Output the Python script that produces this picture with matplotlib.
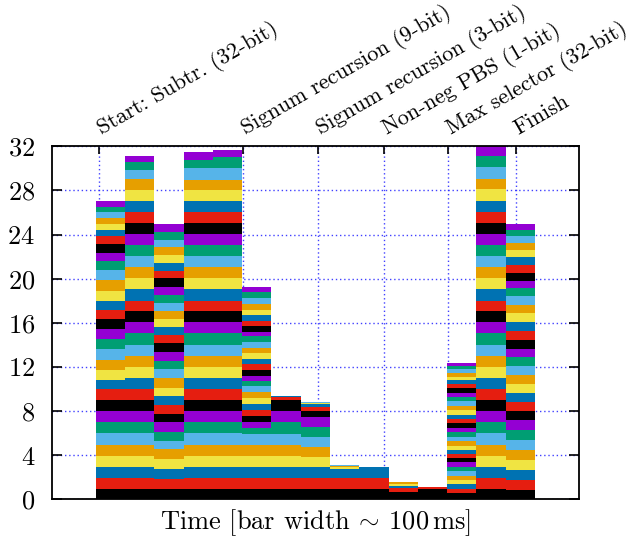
import matplotlib
matplotlib.use("Agg")
import matplotlib.pyplot as plt
import matplotlib.transforms as mtrans
import numpy as np

plt.rcParams["font.family"] = ["cmr10", "DejaVu Serif"]
plt.rcParams["mathtext.fontset"] = "cm"
plt.rcParams["axes.formatter.use_mathtext"] = True

# per-thread busy time in each 100 ms slot (stacked from bottom)
slot02 = [0.94, 1.03, 0.97, 1.00, 1.00, 1.03, 1.03, 1.00, 1.03, 0.94, 0.88, 0.91, 0.91, 0.91, 0.91, 0.91,
          0.91, 0.82, 0.88, 0.91, 0.94, 0.91, 0.82, 0.76, 0.79, 0.73, 0.54, 0.51, 0.57, 0.54, 0.51, 0.48]
slot03 = [0.94, 1.03, 0.97, 1.00, 1.00, 1.03, 1.03, 1.00, 1.03, 0.97, 1.03, 1.00, 1.00, 1.00, 1.00, 1.00,
          1.00, 0.97, 1.03, 1.00, 1.00, 1.00, 1.00, 1.00, 1.00, 1.00, 1.00, 1.05, 0.94, 0.79, 0.73, 0.54]
slot04 = [0.94, 0.94, 0.91, 0.88, 0.85, 0.79, 0.82, 0.85, 0.79, 0.76, 0.79, 0.79, 0.85, 0.82, 0.79, 0.79,
          0.79, 0.76, 0.69, 0.73, 0.73, 0.76, 0.69, 0.73, 0.82, 0.66, 0.73, 0.69, 0.73, 0.63, 0.73, 0.73]
slot05 = [0.94, 1.03, 0.97, 1.00, 1.00, 1.03, 1.03, 1.00, 1.03, 0.97, 1.03, 1.00, 1.00, 1.00, 1.00, 1.00,
          1.00, 0.97, 1.03, 1.00, 1.00, 1.00, 1.00, 1.00, 1.00, 1.00, 1.00, 1.00, 0.94, 1.06, 0.73, 0.73]
slot06 = [0.94, 1.03, 0.97, 1.00, 1.00, 1.03, 1.03, 1.00, 1.03, 0.97, 1.03, 1.00, 1.00, 1.00, 1.00, 1.00,
          1.00, 0.97, 1.03, 1.00, 1.00, 1.00, 1.00, 1.00, 1.00, 1.00, 1.00, 1.00, 0.94, 1.06, 0.97, 0.63]
slot07 = [0.94, 1.00, 1.00, 1.00, 1.00, 1.00, 0.54, 0.54, 0.54, 0.54, 0.54, 0.54, 0.51, 0.54, 0.45, 0.54,
          0.48, 0.54, 0.51, 0.48, 0.48, 0.51, 0.54, 0.45, 0.54, 0.45, 0.54, 0.45, 0.54, 0.48, 0.54, 0.45]
slot08 = [0.94, 1.00, 1.00, 1.00, 1.00, 1.00, 1.09, 1.00, 1.00, 0.21, 0.15]
slot09 = [0.94, 1.00, 1.00, 0.91, 0.91, 0.91, 0.91, 0.91, 0.54, 0.36, 0.21, 0.09, 0.06, 0.06]
slot10 = [0.94, 1.00, 0.82, 0.18, 0.09, 0.09]
slot11 = [0.94, 1.00, 1.00]
slot12 = [0.70, 0.32, 0.20, 0.15, 0.20]
slot13 = [0.97, 0.10, 0.05]
slot14 = [0.55, 0.36, 0.45, 0.36, 0.36, 0.45, 0.36, 0.45, 0.36, 0.42, 0.39, 0.36, 0.45, 0.36, 0.45, 0.36,
          0.45, 0.36, 0.36, 0.45, 0.36, 0.45, 0.36, 0.36, 0.45, 0.36, 0.36, 0.27, 0.36, 0.36, 0.27, 0.27]
slot15 = [0.94, 1.03, 0.97, 1.00, 1.00, 1.03, 1.03, 1.00, 1.03, 0.97, 1.03, 1.00, 1.00, 1.00, 1.00, 1.00,
          1.00, 0.97, 1.03, 1.00, 1.00, 1.00, 1.00, 1.00, 1.00, 1.00, 1.00, 1.09, 0.94, 1.06, 1.00, 0.88]
slot16 = [0.85, 0.91, 0.91, 0.91, 0.91, 0.91, 0.91, 0.91, 0.82, 0.82, 0.73, 0.82, 0.82, 0.82, 0.82, 0.73,
          0.82, 0.82, 0.82, 0.82, 0.73, 0.82, 0.73, 0.63, 0.73, 0.73, 0.73, 0.63, 0.66, 0.60, 0.54, 0.54]

slots = [slot02, slot03, slot04, slot05, slot06, slot07, slot08, slot09,
         slot10, slot11, slot12, slot13, slot14, slot15, slot16]
slot_x = np.arange(2, 2 + len(slots))

# phase markers on the top axis
event_x = [1.60, 6.53, 9.08, 11.34, 13.54, 15.84]
event_labels = ["Start: Subtr. (32-bit)", "Signum recursion (9-bit)", "Signum recursion (3-bit)",
                "Non-neg PBS (1-bit)", "Max selector (32-bit)", "Finish"]

# gnuplot default line colours, bottom thread first
colors = ["#000000", "#e51e10", "#0072b2", "#f0e442", "#e69f00", "#56b4e9", "#009e73", "#9400d3"]

n_threads = max(len(s) for s in slots)
heights = np.zeros((n_threads, len(slots)))
for j, s in enumerate(slots):
    heights[:len(s), j] = s

fig = plt.figure(figsize=(6.29, 5.42), dpi=100)
ax = fig.add_axes([0.0822, 0.0788, 0.8383, 0.6513])

bottom = np.zeros(len(slots))
for i in range(n_threads):
    ax.bar(slot_x, heights[i], width=1.0, bottom=bottom, color=colors[i % 8],
           linewidth=0, zorder=2)
    bottom += heights[i]

ax.set_xlim(0, 18)
ax.set_ylim(0, 32)
ax.set_yticks(range(0, 33, 4))
ax.set_xticks(event_x)

ax.tick_params(axis="x", bottom=False, top=True, labelbottom=False, labeltop=False,
               direction="in", length=6, width=1.2)
ax.tick_params(axis="y", left=True, right=True, direction="in", length=7, width=1.2,
               pad=12, labelsize=19)

# rotated phase labels above the top border
shift = mtrans.ScaledTranslation(3 / 100, 11 / 100, fig.dpi_scale_trans)
for xv, txt in zip(event_x, event_labels):
    ax.text(xv, 1.0, txt, transform=ax.get_xaxis_transform() + shift, rotation=30,
            rotation_mode="anchor", ha="left", va="baseline", fontsize=16, clip_on=False)

ax.grid(True, color="#2020ff", linestyle=(0, (1, 2)), linewidth=1.0, alpha=0.85, zorder=0)
ax.set_axisbelow(True)
for sp in ax.spines.values():
    sp.set_linewidth(1.3)
    sp.set_zorder(5)

fig.text(0.5015, 1 - 523 / 542, r"Time [bar width $\!\sim\!$ 100$\,$ms]", ha="center", va="center",
         fontsize=19)

fig.savefig("out.png", dpi=100)
